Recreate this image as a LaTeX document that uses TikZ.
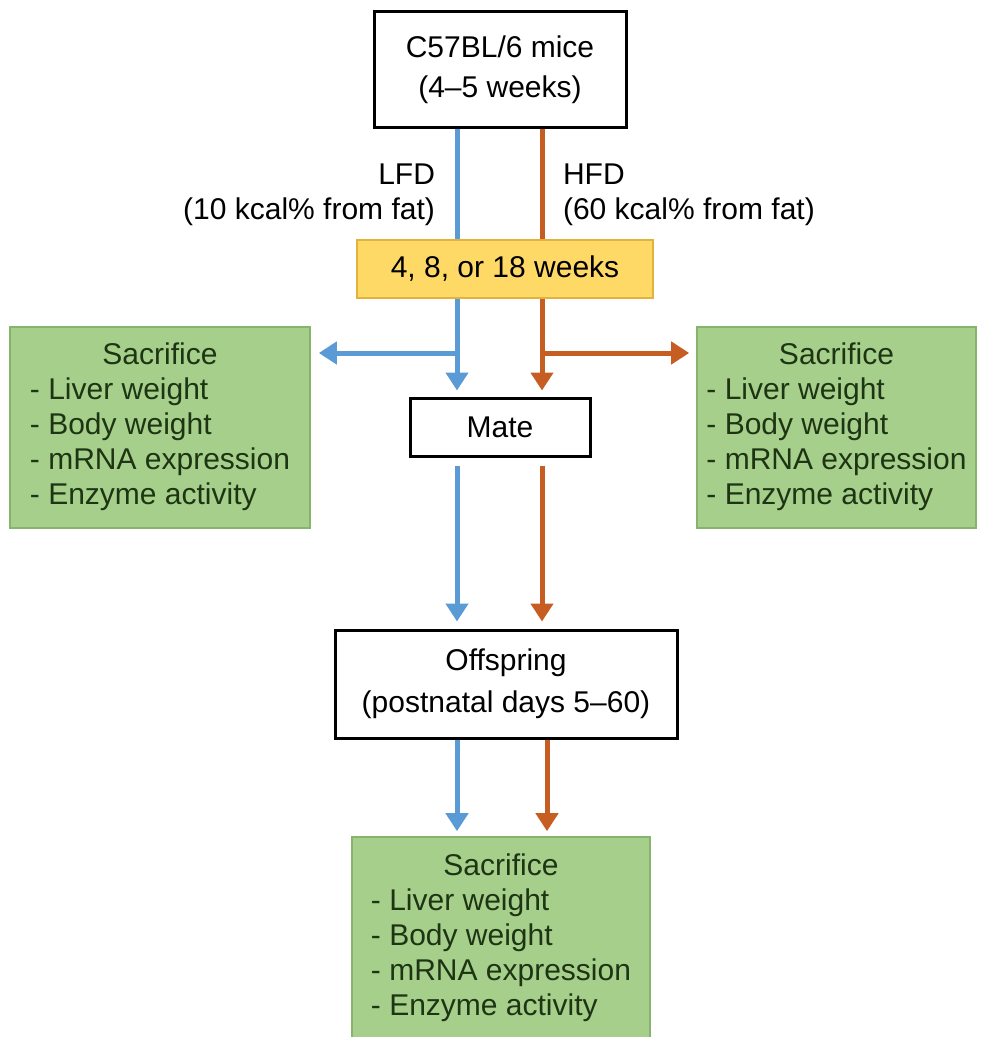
\documentclass[tikz,border=0pt]{standalone}
\usepackage{fontspec}
\setmainfont{Liberation Sans}
\usepackage{tikz}
\usetikzlibrary{arrows.meta}

\definecolor{lfdblue}{HTML}{5B9BD5}
\definecolor{hfdorange}{HTML}{C65E24}
\definecolor{weekfill}{HTML}{FFD966}
\definecolor{weekline}{HTML}{E2B33C}
\definecolor{sacfill}{HTML}{A6CF8B}
\definecolor{sacline}{HTML}{86B46A}
\definecolor{sactext}{HTML}{1E3514}

\newcommand{\sacitems}{\begin{tabular}{@{}l@{}}\multicolumn{1}{c}{Sacrifice}\\- Liver weight\\- Body weight\\- mRNA expression\\- Enzyme activity\end{tabular}}

\tikzset{
        plainbox/.style={draw=black, line width=1.5pt, fill=white, align=center, inner sep=0pt},
        sacbox/.style={draw=sacline, line width=0.8pt, fill=sacfill, inner sep=0pt, text=sactext},
        lfdline/.style={draw=lfdblue, line width=2.5pt},
        hfdline/.style={draw=hfdorange, line width=2.5pt},
        tip/.style={-{Triangle[width=11pt,length=9pt]}}
}

\begin{document}
\begin{tikzpicture}[x=0.5pt, y=-0.5pt, font=\fontsize{15}{17.5}\selectfont]
        \useasboundingbox (0,0) rectangle (986,1037);
        \clip (0,0) rectangle (986,1037);

        \node[plainbox, minimum width=126pt, minimum height=58pt, font=\fontsize{15}{20}\selectfont] (mice) at (500,70) {C57BL/6 mice\\(4--5 weeks)};
        \node[draw=weekline, line width=0.8pt, fill=weekfill, inner sep=0pt, minimum width=148pt, minimum height=29pt] (weeks) at (505,269) {4, 8, or 18 weeks};

        \node[anchor=east, align=right] (lfd) at (442,195) {LFD\\(10 kcal\% from fat)};
        \node[anchor=west, align=left] (hfd) at (556,195) {HFD\\(60 kcal\% from fat)};

        \node[sacbox, minimum width=150pt, minimum height=100.5pt] (sacL) at (160,427.5) {\sacitems};
        \node[sacbox, minimum width=139.5pt, minimum height=100.5pt] (sacR) at (836.5,427.5) {\sacitems};
        \node[plainbox, minimum width=90pt, minimum height=29pt] (mate) at (500,427) {Mate};
        \node[plainbox, minimum width=171pt, minimum height=54pt, font=\fontsize{15}{21}\selectfont] (off) at (506,684) {Offspring\\(postnatal days 5--60)};
        \node[sacbox, minimum width=149pt, minimum height=101pt] (sacB) at (501,938) {\sacitems};

        \coordinate (lx) at (457,353);
        \coordinate (rx) at (542,353);
        \coordinate (rx2) at (547,738);

        \draw[lfdline] (mice.south -| lx) -- (weeks.north -| lx);
        \draw[hfdline] (mice.south -| rx) -- (weeks.north -| rx);

        \draw[lfdline, tip, shorten >=3pt] (weeks.south -| lx) -- (mate.north -| lx);
        \draw[hfdline, tip, shorten >=3pt] (weeks.south -| rx) -- (mate.north -| rx);
        \draw[lfdline, tip, shorten >=4pt] (lx) -- (lx -| sacL.east);
        \draw[hfdline, tip, shorten >=3.5pt] (rx) -- (rx -| sacR.west);

        \draw[lfdline, tip, shorten <=4pt, shorten >=3.5pt] (mate.south -| lx) -- (off.north -| lx);
        \draw[hfdline, tip, shorten <=4pt, shorten >=3.5pt] (mate.south -| rx) -- (off.north -| rx);

        \draw[lfdline, tip, shorten >=2.5pt] (off.south -| lx) -- (sacB.north -| lx);
        \draw[hfdline, tip, shorten >=2.5pt] (off.south -| rx2) -- (sacB.north -| rx2);
\end{tikzpicture}
\end{document}
